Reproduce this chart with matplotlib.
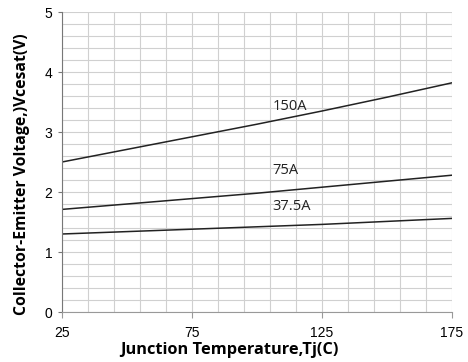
import matplotlib
matplotlib.use('Agg')
import matplotlib.pyplot as plt
import matplotlib.ticker as ticker


### DATA

tj = [25, 50, 75, 100, 125, 150, 175]

vce_150 = [2.50, 2.71, 2.92, 3.13, 3.35, 3.58, 3.82]
vce_75 = [1.71, 1.80, 1.89, 1.98, 2.08, 2.18, 2.28]
vce_37 = [1.30, 1.34, 1.38, 1.42, 1.46, 1.51, 1.56]

curve_labels = ['150A', '75A', '37.5A']
label_pos = [(106, 3.43), (106, 2.35), (106, 1.75)]

x_ticks = [25, 75, 125, 175]
y_ticks = [0, 1, 2, 3, 4, 5]


fig = plt.figure(figsize=(4.68, 3.62), dpi=100)
ax = fig.add_axes([62/468, 50/362, 390/468, 300/362])

for vals in (vce_150, vce_75, vce_37):
    ax.plot(tj, vals, color='#222222', linewidth=1.1)

for txt, (lx, ly) in zip(curve_labels, label_pos):
    ax.text(lx, ly, txt, fontsize=10.5, family='Open Sans', color='#222222', va='center', ha='left')

ax.set_xlim(25, 175)
ax.set_ylim(0, 5)
ax.set_xticks(x_ticks)
ax.set_yticks(y_ticks)
ax.xaxis.set_minor_locator(ticker.MultipleLocator(10, offset=5))
ax.yaxis.set_minor_locator(ticker.MultipleLocator(0.2))

ax.grid(which='both', color='#d0d0d0', linewidth=0.8)
ax.set_axisbelow(True)

for side in ('top', 'right'):
    ax.spines[side].set_visible(False)
ax.spines['left'].set_color('#777777')
ax.spines['bottom'].set_color('#999999')

ax.tick_params(which='minor', length=0)
ax.tick_params(axis='x', which='major', length=4, color='#999999', labelsize=10, pad=6)
ax.tick_params(axis='y', which='major', length=3, color='#777777', labelsize=10, pad=4)
for lab in ax.get_xticklabels() + ax.get_yticklabels():
    lab.set_family('Liberation Sans')

ax.set_xlabel('Junction Temperature,Tj(C)', fontsize=11.8, fontweight='bold', family='Open Sans', va='center')
ax.set_ylabel('Collector-Emitter Voltage,)Vcesat(V)', fontsize=11.3, fontweight='bold', family='Open Sans', va='center')
ax.xaxis.set_label_coords(0.428, -0.127)
ax.yaxis.set_label_coords(-0.102, 0.46)

fig.savefig('out.png', dpi=100)
